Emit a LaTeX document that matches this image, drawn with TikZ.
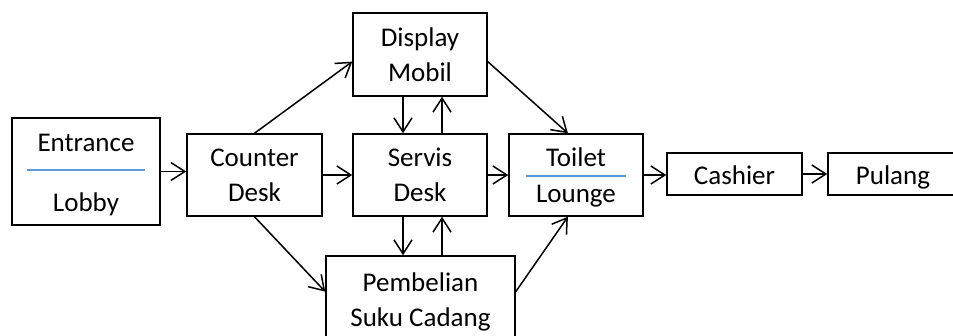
\documentclass[tikz,border=0pt]{standalone}
\usepackage{fontspec}
\setmainfont{Carlito}
\usepackage{tikz}
\usetikzlibrary{arrows.meta}
\tikzset{>={Straight Barb[length=7pt,width=9pt]}}
\definecolor{sepblue}{RGB}{91,155,213}
\tikzset{
  box/.style={draw, line width=0.75pt, align=center, inner sep=0pt},
  twoline/.style={box, text depth=-2.5pt},
  oneline/.style={box, minimum height=21pt, text height=10.5pt, text depth=0pt},
  txt/.style={inner sep=0pt, anchor=base},
  sep/.style={draw=sepblue, line width=0.6pt},
  flow/.style={->, line width=0.75pt}
}

\begin{document}
\begin{tikzpicture}[x=0.5pt, y=-0.5pt]
  \fontsize{13.5}{17.5}\selectfont
  \useasboundingbox (0,0) rectangle (953,336);

  \node[box, minimum width=74pt, minimum height=53.5pt] (entrance) at (86,171.5) {};
  \node[txt] (entrance-top) at (86,152) {Entrance};
  \node[txt] (entrance-bot) at (86,212) {Lobby};
  \draw[sep] (27,170) -- (145,170);

  \node[twoline, minimum width=67.5pt, minimum height=41pt] (counter) at (254.5,175) {Counter\\Desk};
  \node[twoline, minimum width=67pt, minimum height=41.5pt] (display) at (420,54.5) {Display\\Mobil};
  \node[twoline, minimum width=67pt, minimum height=41pt] (servis) at (420,175) {Servis\\Desk};
  \node[twoline, minimum width=94.5pt, minimum height=44pt] (pembelian) at (420.5,300) {Pembelian\\Suku Cadang};

  \node[box, minimum width=67pt, minimum height=41pt] (toilet) at (576,175) {};
  \node[txt] (toilet-top) at (576,167) {Toilet};
  \node[txt] (toilet-bot) at (576,203) {Lounge};
  \draw[sep] (526,176) -- (626,176);

  \node[oneline, minimum width=67.5pt] (cashier) at (734.5,174) {Cashier};
  \node[oneline, minimum width=65pt] (pulang) at (893,174) {Pulang};

  % arrows
  \draw[flow] (entrance.east) -- (entrance.east -| counter.west);
  \draw[flow] (counter) -- (servis);
  \draw[flow] (counter.north) -- (display.186);
  \draw[flow] (counter.south) -- (pembelian.175);
  \draw[flow] ([xshift=-8.5pt]display.south) -- ([xshift=-8.5pt]servis.north);
  \draw[flow] ([xshift=11pt]servis.north) -- ([xshift=11pt]display.south);
  \draw[flow] ([xshift=-8.5pt]servis.south) -- ([xshift=-8.5pt]servis.south |- pembelian.north);
  \draw[flow] ([xshift=11pt]servis.south |- pembelian.north) -- ([xshift=11pt]servis.south);
  \draw[flow] (display.354) -- (toilet.101);
  \draw[flow] (pembelian.5) -- (toilet.259);
  \draw[flow] (servis) -- (toilet);
  \draw[flow] (toilet.east) -- (toilet.east -| cashier.west);
  \draw[flow] (cashier) -- (pulang);
\end{tikzpicture}
\end{document}
